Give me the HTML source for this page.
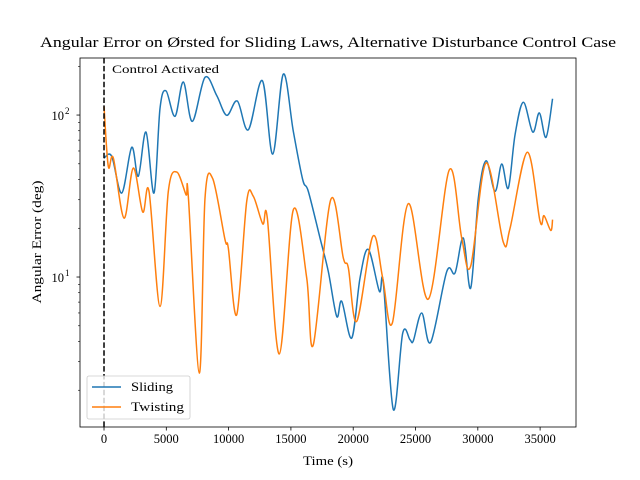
<!DOCTYPE html>
<html><head><meta charset="utf-8"><style>
body{margin:0;background:#fff}
svg{display:block;font-family:"Liberation Serif",serif}
</style></head><body>
<svg id="chart" width="640" height="480" viewBox="0 0 640 480"></svg>
<script>
const slidingT=[0,618,1421,2223,2753,3371,4013,4495,4976,5698,6365,7087,8106,9045,9848,10699,11582,12705,13540,14391,15193,15948,16397,17336,18003,18677,19078,19881,20547,21213,22096,22417,23219,23974,24560,24825,25498,26221,27505,28171,28837,29431,30041,30659,31381,31919,32449,32987,33653,34408,34937,35475,36000];
const slidingV=[54.3,55.6,33.0,63.2,41.9,78.5,33.0,110,141,98.2,160,91.4,171,132,99.6,122,81.1,163,57.4,179,79.3,39.9,33.8,17.4,10.8,5.71,7.08,4.20,9.86,14.8,8.17,9.19,1.52,4.51,4.10,4.04,6.00,3.96,10.8,10.6,17.4,8.55,30.7,52.2,33.8,49.9,35.4,75.5,120,78.5,103,72.8,126];
const twistT=[0,345,746,1605,2352,3106,3612,4495,5161,5835,6581,6766,7649,8106,8724,9711,9976,10651,11453,11983,12737,13107,14070,15193,16269,16798,18195,19207,19608,20282,21566,22369,23139,24423,26029,27714,28709,29431,30659,32048,32586,33974,34994,35315,35853,36000];
const twistV=[113,48.2,54.3,23.1,47.1,25.2,33.8,6.59,33.8,44.5,32.2,31.5,2.55,30.7,40.5,17.0,15.1,5.85,29.3,31.5,21.3,23.1,3.35,26.0,9.86,3.82,30.0,13.1,11.4,5.33,17.8,9.86,5.20,28.4,7.31,45.9,17.4,11.7,50.6,16.4,20.0,58.9,22.1,23.9,19.4,22.6];
const xTicks=[0,5000,10000,15000,20000,25000,30000,35000];
const yMajor=[1,2];

const svg=document.getElementById('chart');
const NS='http://www.w3.org/2000/svg';
const L=80,R=576,T=58,B=427;
const xMin=-1927,xMax=37880,yMinL=Math.log10(1.186),yMaxL=Math.log10(225);
const X=t=>L+(t-xMin)/(xMax-xMin)*(R-L);
const Y=v=>B-(Math.log10(v)-yMinL)/(yMaxL-yMinL)*(B-T);
function mk(tag,attrs,parent){const e=document.createElementNS(NS,tag);for(const k in attrs)e.setAttribute(k,attrs[k]);(parent||svg).appendChild(e);return e;}

function smooth(ts,vs){
  const p=ts.map((t,i)=>[X(t),Y(vs[i])]);
  let d='M'+p[0][0].toFixed(2)+','+p[0][1].toFixed(2);
  for(let i=0;i<p.length-1;i++){
    const p0=p[i-1]||p[i],p1=p[i],p2=p[i+1],p3=p[i+2]||p[i+1];
    const c1=[p1[0]+(p2[0]-p0[0])/6,p1[1]+(p2[1]-p0[1])/6];
    const c2=[p2[0]-(p3[0]-p1[0])/6,p2[1]-(p3[1]-p1[1])/6];
    d+='C'+c1[0].toFixed(2)+','+c1[1].toFixed(2)+' '+c2[0].toFixed(2)+','+c2[1].toFixed(2)+' '+p2[0].toFixed(2)+','+p2[1].toFixed(2);
  }
  return d;
}
const clip=mk('clipPath',{id:'pc'});mk('rect',{x:L,y:T,width:R-L,height:B-T},clip);

const s1=mk('path',{d:smooth(slidingT,slidingV),fill:'none',stroke:'#1f77b4','stroke-width':1.5,'clip-path':'url(#pc)'});


const s2=mk('path',{d:smooth(twistT,twistV),fill:'none',stroke:'#ff7f0e','stroke-width':1.5,'clip-path':'url(#pc)'});



const vl=mk('line',{x1:X(0),x2:X(0),y1:T,y2:B,stroke:'#000','stroke-width':1.5,'stroke-dasharray':'5.5,2.4'});


const ct=mk('text',{x:112,y:73,'font-size':12,textLength:107,lengthAdjust:'spacingAndGlyphs'});ct.textContent='Control Activated';



const frame=mk('rect',{x:L,y:T,width:R-L,height:B-T,fill:'none',stroke:'#000','stroke-width':0.8});



xTicks.forEach(t=>{
  mk('line',{x1:X(t),x2:X(t),y1:B,y2:B+3.5,stroke:'#000','stroke-width':0.8});
  const tx=mk('text',{x:X(t),y:B+16,'font-size':12.5,'text-anchor':'middle'});tx.textContent=t;
  
  
});
for(let e=0;e<=2;e++)for(let m=2;m<=9;m++){const v=m*Math.pow(10,e);if(Math.log10(v)<yMinL||Math.log10(v)>yMaxL)continue;
  mk('line',{x1:L-2,x2:L,y1:Y(v),y2:Y(v),stroke:'#000','stroke-width':0.6});}
yMajor.forEach(e=>{
  const y=Y(Math.pow(10,e));
  mk('line',{x1:L-3.5,x2:L,y1:y,y2:y,stroke:'#000','stroke-width':0.8});
  const tx=mk('text',{x:64,y:y+5,'font-size':12.5,'text-anchor':'end'});tx.textContent='10';
  
  
  const sup=mk('text',{x:65,y:y-1,'font-size':9,'text-anchor':'start'});sup.textContent=e;
});

const title=mk('text',{x:328,y:47,'font-size':15,'text-anchor':'middle',textLength:576,lengthAdjust:'spacingAndGlyphs'});
title.textContent='Angular Error on Ørsted for Sliding Laws, Alternative Disturbance Control Case';


const xl=mk('text',{x:328,y:465,'font-size':12.5,'text-anchor':'middle',textLength:50,lengthAdjust:'spacingAndGlyphs'});xl.textContent='Time (s)';


const yl=mk('text',{x:0,y:0,'font-size':12.5,'text-anchor':'middle',textLength:123,lengthAdjust:'spacingAndGlyphs',transform:'translate(41,242) rotate(-90)'});yl.textContent='Angular Error (deg)';



const lg=mk('g',{});


mk('rect',{x:87,y:376,width:103,height:43,rx:2,fill:'#fff','fill-opacity':0.8,stroke:'#ccc','stroke-width':0.8},lg);
[['Sliding','#1f77b4',387,42],['Twisting','#ff7f0e',407,53]].forEach(([n,c,y,w])=>{
  const g=mk('g',{},lg);
  
  
  mk('line',{x1:92,x2:121,y1:y,y2:y,stroke:c,'stroke-width':1.5},g);
  const t=mk('text',{x:131,y:y+4,'font-size':12.5,textLength:w,lengthAdjust:'spacingAndGlyphs'},g);t.textContent=n;
});
</script>
</body></html>
